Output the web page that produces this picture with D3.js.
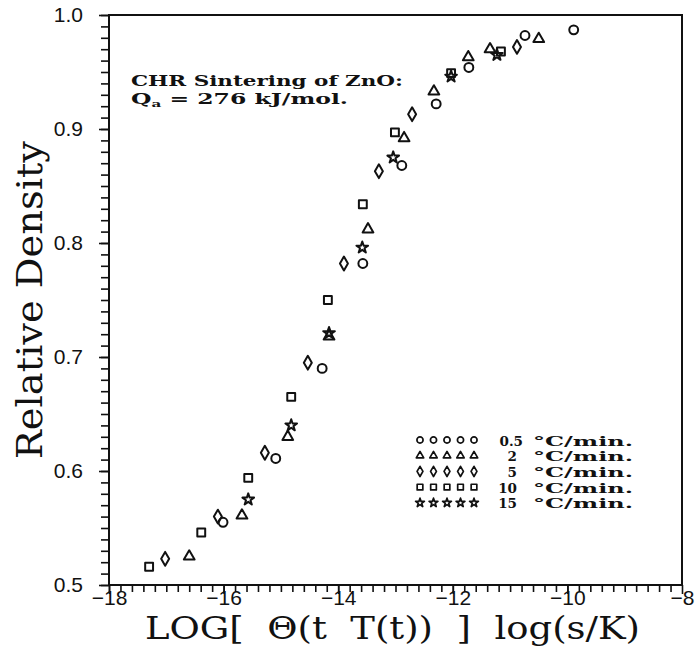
<!DOCTYPE html>
<html>
<head>
<meta charset="utf-8">
<script src="https://cdn.jsdelivr.net/npm/d3@7"></script>
<style>
  body { margin: 0; background: #fff; }
  svg { display: block; }
</style>
</head>
<body>
<svg id="chart" width="699" height="659"></svg>
<script>
// series: x = log(theta), y = relative density
const rate05X = [-16.01, -15.09, -14.28, -13.57, -12.89, -12.29, -11.72, -10.74, -9.89];
const rate05Y = [0.555, 0.611, 0.690, 0.782, 0.868, 0.922, 0.954, 0.982, 0.987];

const rate2X = [-16.60, -15.68, -14.88, -14.16, -13.48, -12.85, -12.33, -11.73, -11.35, -10.50];
const rate2Y = [0.525, 0.561, 0.630, 0.718, 0.812, 0.892, 0.933, 0.963, 0.970, 0.979];

const rate5X = [-17.02, -16.10, -15.28, -14.53, -13.90, -13.29, -12.71, -10.88];
const rate5Y = [0.523, 0.560, 0.616, 0.695, 0.782, 0.863, 0.913, 0.972];

const rate10X = [-17.30, -16.39, -15.57, -14.82, -14.18, -13.57, -13.01, -12.03, -11.16];
const rate10Y = [0.516, 0.546, 0.594, 0.665, 0.750, 0.834, 0.897, 0.949, 0.968];

const rate15X = [-15.57, -14.82, -14.16, -13.58, -13.04, -12.03, -11.23];
const rate15Y = [0.575, 0.640, 0.721, 0.796, 0.875, 0.946, 0.965];

const rateLabels = ['0.5', '2', '5', '10', '15'];
const xTicks = [-18, -16, -14, -12, -10, -8];
const yTicks = [0.5, 0.6, 0.7, 0.8, 0.9, 1.0];

const svg = d3.select('#chart');
const plotL = 109, plotR = 682, plotT = 15, plotB = 585;

const x = d3.scaleLinear().domain([-18, -8]).range([plotL, plotR]);
const y = d3.scaleLinear().domain([0.5, 1.0]).range([plotB, plotT]);

const serif = "'DejaVu Serif', serif";
const sans = "'Liberation Sans', Arial, sans-serif";

// frame
svg.append('rect')
  .attr('x', plotL).attr('y', plotT)
  .attr('width', plotR - plotL).attr('height', plotB - plotT)
  .attr('fill', 'none').attr('stroke', '#111').attr('stroke-width', 2);

// x axis: minor ticks every 0.2
const xAxisMinor = d3.axisBottom(x).tickValues(d3.range(-18, -8.01, 0.2)).tickSize(7).tickFormat('');
const gxm = svg.append('g').attr('transform', `translate(0,${plotB})`).call(xAxisMinor);
const xAxis = d3.axisBottom(x).tickValues(xTicks).tickSize(9)
  .tickFormat(d => d < 0 ? '\u2212' + Math.abs(d) : d);
const gx = svg.append('g').attr('transform', `translate(0,${plotB})`).call(xAxis);
gx.selectAll('text').attr('font-family', sans).attr('font-size', 21).attr('fill', '#111')
  .attr('y', 5).attr('dy', '0.71em');

// y axis: minor ticks every 0.01
const yAxisMinor = d3.axisLeft(y).tickValues(d3.range(0.5, 1.001, 0.01)).tickSize(8).tickFormat('');
const gym = svg.append('g').attr('transform', `translate(${plotL},0)`).call(yAxisMinor);
const yAxis = d3.axisLeft(y).tickValues(yTicks).tickSize(10).tickFormat(d3.format('.1f'));
const gy = svg.append('g').attr('transform', `translate(${plotL},0)`).call(yAxis);
gy.selectAll('text').attr('font-family', sans).attr('font-size', 21).attr('fill', '#111').attr('x', -26);

[gxm, gx, gym, gy].forEach(g => {
  g.select('.domain').remove();
  g.selectAll('line').attr('stroke', '#111').attr('stroke-width', 1.6);
});

// markers
const series = [
  { xs: rate05X, ys: rate05Y, path: d3.symbol().type(d3.symbolCircle).size(62)(), lsym: d3.symbol().type(d3.symbolCircle).size(30)() },
  { xs: rate2X, ys: rate2Y, path: d3.symbol().type(d3.symbolTriangle).size(50)(), lsym: d3.symbol().type(d3.symbolTriangle).size(24)() },
  { xs: rate5X, ys: rate5Y, path: d3.symbol().type(d3.symbolDiamond).size(55)(), lsym: d3.symbol().type(d3.symbolDiamond).size(30)() },
  { xs: rate10X, ys: rate10Y, path: d3.symbol().type(d3.symbolSquare).size(62)(), lsym: d3.symbol().type(d3.symbolSquare).size(32)() },
  { xs: rate15X, ys: rate15Y, path: d3.symbol().type(d3.symbolStar).size(42)(), lsym: d3.symbol().type(d3.symbolStar).size(24)() }
];

series.forEach(s => {
  svg.append('g').selectAll('path')
    .data(s.xs.map((v, i) => [v, s.ys[i]]))
    .join('path')
    .attr('d', s.path)
    .attr('transform', d => `translate(${x(d[0])},${y(d[1])})`)
    .attr('fill', 'none')
    .attr('stroke', '#111')
    .attr('stroke-width', 2)
    .attr('stroke-linejoin', 'round');
});

// annotation
const note = svg.append('g').attr('font-family', serif).attr('font-weight', 'bold').attr('fill', '#111');
note.append('text').attr('x', 131).attr('y', 86).attr('font-size', 15.5)
  .attr('textLength', 272).attr('lengthAdjust', 'spacingAndGlyphs')
  .text('CHR Sintering of ZnO:');
const q = note.append('text').attr('x', 131).attr('y', 104).attr('font-size', 15.5)
  .attr('textLength', 217).attr('lengthAdjust', 'spacingAndGlyphs');
q.append('tspan').text('Q');
q.append('tspan').attr('font-size', 10).attr('dy', 3).text('a');
q.append('tspan').attr('dy', -3).text(' = 276 kJ/mol.');

// legend
const leg = svg.append('g').attr('font-family', serif).attr('font-weight', 'bold').attr('fill', '#111');
rateLabels.forEach((lab, i) => {
  const cy = 440 + i * 15.7;
  for (let k = 0; k < 5; k++) {
    leg.append('path').attr('d', series[i].lsym)
      .attr('transform', `translate(${420 + k * 13.5},${cy})`)
      .attr('fill', 'none').attr('stroke', '#111').attr('stroke-width', 1.7)
      .attr('stroke-linejoin', 'round');
  }
  leg.append('text').attr('x', i === 0 ? 523 : 517).attr('y', cy + 5.5)
    .attr('text-anchor', 'end').attr('font-size', 13.5).text(lab);
  leg.append('text').attr('x', 533).attr('y', cy + 5.5).attr('font-size', 13.5)
    .attr('textLength', 100).attr('lengthAdjust', 'spacingAndGlyphs')
    .text('\u00B0C/min.');
});

// axis titles
svg.append('text')
  .attr('x', 145).attr('y', 639)
  .attr('font-family', serif).attr('font-size', 31).attr('fill', '#111')
  .attr('textLength', 495).attr('lengthAdjust', 'spacingAndGlyphs')
  .attr('xml:space', 'preserve')
  .text('LOG[  \u0398(t  T(t))  ]  log(s/K)');

svg.append('text')
  .attr('transform', 'translate(42,300) rotate(-90)')
  .attr('text-anchor', 'middle')
  .attr('font-family', serif).attr('font-size', 35).attr('fill', '#111')
  .attr('textLength', 318).attr('lengthAdjust', 'spacingAndGlyphs')
  .text('Relative Density');
</script>
</body>
</html>
